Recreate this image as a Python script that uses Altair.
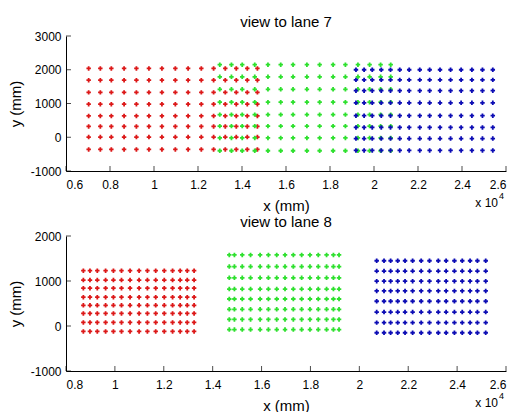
import altair as alt
import pandas as pd

# ---- data (x in mm, y in mm) ----
# view to lane 7
red7_x = [7030, 7560, 8060, 8640, 9200, 9770, 10360, 10970, 11550, 12150, 12710, 13240, 13740, 14240, 14700]
red7_y = [2040, 1690, 1330, 980, 632, 320, 5, -360]
green7_x = [12990, 13520, 14010, 14580, 15180, 15760, 16320, 16950, 17530, 18140, 18700, 19270, 19800, 20300, 20760]
green7_y = [2150, 1790, 1420, 1040, 670, 330, -20, -400]
blue7_x = [19180, 19550, 19920, 20330, 20750, 21170, 21600, 22080, 22530, 23000, 23480, 23960, 24450, 24930, 25400]
blue7_y = [2000, 1700, 1380, 1020, 640, 290, -40, -390]

# view to lane 8
red8_x = [8710, 8980, 9280, 9620, 9940, 10270, 10620, 10990, 11330, 11670, 12020, 12360, 12670, 12960, 13240]
red8_y = [1230, 1020, 840, 640, 460, 280, 80, -120]
green8_x = [14680, 14890, 15210, 15550, 15940, 16280, 16620, 16960, 17300, 17640, 17980, 18320, 18660, 18940, 19170]
green8_y = [1580, 1320, 1070, 820, 600, 370, 145, -80]
blue8_x = [20710, 21010, 21280, 21570, 21870, 22180, 22530, 22870, 23230, 23550, 23890, 24210, 24530, 24830, 25170]
blue8_y = [1450, 1220, 995, 780, 550, 310, 75, -150]

# axis ticks
x7_ticks = [6000, 8000, 10000, 12000, 14000, 16000, 18000, 20000, 22000, 24000, 26000]
y7_ticks = [-1000, 0, 1000, 2000, 3000]
x8_ticks = [8000, 10000, 12000, 14000, 16000, 18000, 20000, 22000, 24000, 26000]
y8_ticks = [-1000, 0, 1000, 2000]

clusters = ["red", "green", "blue"]
colors = ["#dc1818", "#2ee02e", "#0c0cb4"]

FONT = "Liberation Sans"
W, H = 440, 135


def grid(xs, ys, name):
    return [{"x": x, "y": y, "cluster": name} for y in ys for x in xs]


def panel(df, title, xdom, ydom, xticks, yticks):
    xs = alt.Scale(domain=xdom, nice=False, zero=False)
    ys = alt.Scale(domain=ydom, nice=False, zero=False)
    xax = alt.Axis(values=xticks, title="x (mm)",
                   labelExpr="format(datum.value / 10000, '~g')")
    yax = alt.Axis(values=yticks, title="y (mm)", labelExpr="'' + datum.value")
    pts = alt.Chart(df).mark_point(shape="cross", filled=True, size=20, opacity=1).encode(
        x=alt.X("x:Q", scale=xs, axis=xax),
        y=alt.Y("y:Q", scale=ys, axis=yax),
        color=alt.Color("cluster:N", scale=alt.Scale(domain=clusters, range=colors), legend=None),
    )
    xt = alt.Chart(pd.DataFrame({"x": xticks})).mark_tick(
        orient="vertical", size=5, thickness=1, color="black").encode(
        x=alt.X("x:Q", scale=xs, axis=xax), y=alt.value(H - 2.5))
    yt = alt.Chart(pd.DataFrame({"y": yticks})).mark_tick(
        orient="horizontal", size=5, thickness=1, color="black").encode(
        y=alt.Y("y:Q", scale=ys, axis=yax), x=alt.value(2.5))
    one = pd.DataFrame({"a": [0]})
    mult = alt.Chart(one).mark_text(
        font=FONT, fontSize=12, align="right", baseline="middle", color="black").encode(
        x=alt.value(W - 8), y=alt.value(H + 32), text=alt.value("x 10"))
    exp = alt.Chart(one).mark_text(
        font=FONT, fontSize=9, align="left", baseline="middle", color="black").encode(
        x=alt.value(W - 7), y=alt.value(H + 25), text=alt.value("4"))
    return alt.layer(pts, xt, yt, mult, exp).properties(
        width=W, height=H,
        title=alt.TitleParams(title, font=FONT, fontSize=15, fontWeight="normal",
                              anchor="middle", offset=0, color="black"),
    )


top_df = pd.DataFrame(grid(red7_x, red7_y, "red") + grid(green7_x, green7_y, "green")
                      + grid(blue7_x, blue7_y, "blue"))
bot_df = pd.DataFrame(grid(red8_x, red8_y, "red") + grid(green8_x, green8_y, "green")
                      + grid(blue8_x, blue8_y, "blue"))

top = panel(top_df, "view to lane 7", [6000, 26000], [-1000, 3000], x7_ticks, y7_ticks)
bot = panel(bot_df, "view to lane 8", [8000, 26000], [-1000, 2000], x8_ticks, y8_ticks)

chart = alt.vconcat(top, bot, spacing=2).properties(
    padding={"left": 0, "top": 7, "right": 0, "bottom": 0}
).configure_view(stroke=None).configure_axis(
    grid=False, domainColor="black", domainWidth=1, tickSize=0,
    labelFont=FONT, labelFontSize=12, labelColor="black", labelPadding=5,
    titleFont=FONT, titleFontSize=15, titleFontWeight="normal", titleColor="black",
).configure_axisX(labelPadding=8, titlePadding=8).configure_axisY(titlePadding=7)

chart.save("out.html", embed_options={"renderer": "svg", "actions": False})
